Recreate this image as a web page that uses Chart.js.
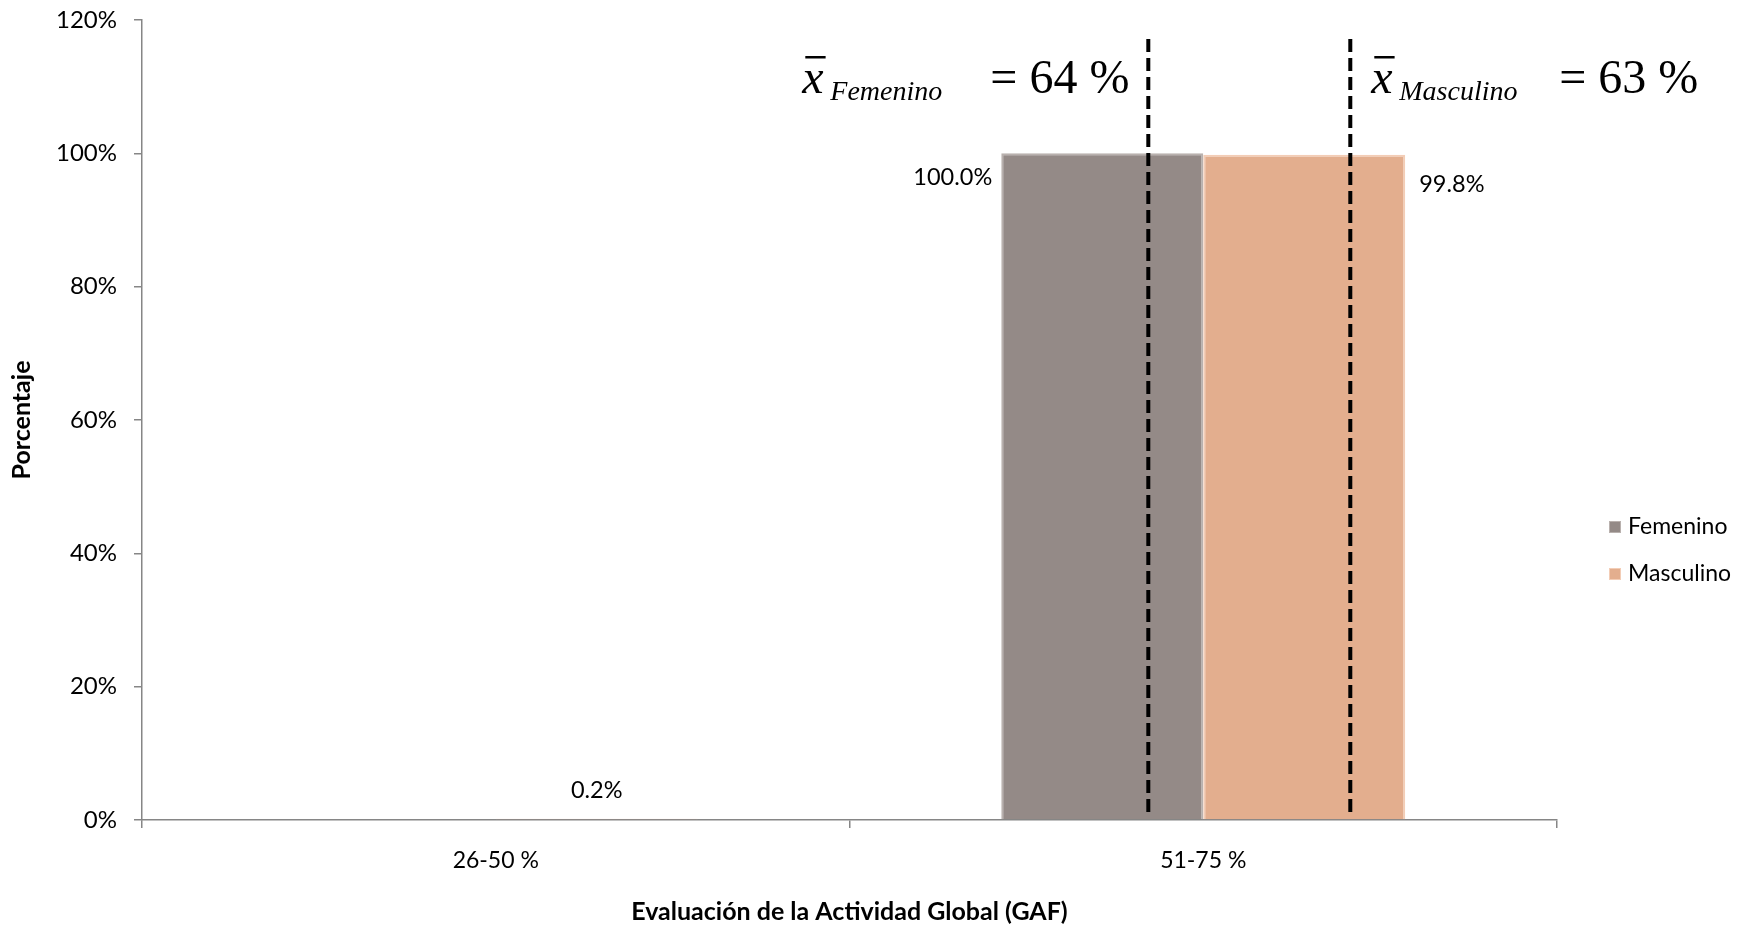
<!DOCTYPE html>
<html lang="es">
<head>
<meta charset="UTF-8">
<title>Evaluación de la Actividad Global (GAF)</title>
<style>
  body { margin: 0; background: #fff; }
  canvas { display: block; }
</style>
<script src="https://cdn.jsdelivr.net/npm/chart.js"></script>
</head>
<body>
<canvas id="graph" width="1750" height="927"></canvas>
<script>
// data
const categories = ['26-50 %', '51-75 %'];
const seriesNames = ['Femenino', 'Masculino'];
const femenino = [0, 100];
const masculino = [0.2, 99.8];
const means = [64, 63]; // media por sexo (%)

const FONT = 'Lato, "Open Sans", sans-serif';
const SERIF = '"Liberation Serif", "DejaVu Serif", serif';
const AXIS = '#868686';
const barColors = ['#948a87', '#e3ae8e'];
const barEdges = ['#b9b1ae', '#f3cdb6'];

// value labels: femenino to the left, masculino to the right, tiny ones above
const valueLabels = {
    id: 'valueLabels',
    afterDatasetsDraw(chart) {
        const ctx = chart.ctx;
        ctx.save();
        ctx.font = '23.5px ' + FONT;
        ctx.fillStyle = '#000';
        ctx.textBaseline = 'middle';
        chart.data.datasets.forEach((ds, i) => {
            chart.getDatasetMeta(i).data.forEach((bar, j) => {
                const v = ds.data[j];
                if (!v) return;
                const txt = v.toFixed(1) + '%';
                if (bar.base - bar.y < 40) {
                    ctx.textAlign = 'center';
                    ctx.fillText(txt, bar.x, bar.y - 28);
                } else if (i === 0) {
                    ctx.textAlign = 'right';
                    ctx.fillText(txt, bar.x - bar.width / 2 - 9, bar.y + 24);
                } else {
                    ctx.textAlign = 'left';
                    ctx.fillText(txt, bar.x + bar.width / 2 + 14, bar.y + 30);
                }
            });
        });
        ctx.restore();
    }
};

// dashed mean lines and the x-bar annotations
const meanMarks = {
    id: 'meanMarks',
    afterDatasetsDraw(chart) {
        const ctx = chart.ctx;
        const area = chart.chartArea;
        const cat = 1; // 51-75 % group
        const textOffset = [-346, 21];
        ctx.save();
        chart.data.datasets.forEach((ds, i) => {
            const bar = chart.getDatasetMeta(i).data[cat];
            const lx = bar.x + bar.width * 0.228;
            ctx.strokeStyle = '#000';
            ctx.lineWidth = 4;
            ctx.setLineDash([13, 6]);
            ctx.beginPath();
            ctx.moveTo(lx, area.top + 19);
            ctx.lineTo(lx, area.bottom - 6);
            ctx.stroke();
            ctx.setLineDash([]);

            const x = lx + textOffset[i];
            ctx.fillStyle = '#000';
            ctx.textAlign = 'left';
            ctx.textBaseline = 'alphabetic';
            ctx.font = 'italic 48px ' + SERIF;
            ctx.fillText('x', x, area.top + 73);
            const w = ctx.measureText('x').width;
            ctx.fillRect(x + 3, area.top + 36, w - 1, 2.5);
            ctx.font = 'italic 28px ' + SERIF;
            ctx.fillText(seriesNames[i], x + 28, area.top + 80);
            ctx.font = '48px ' + SERIF;
            ctx.fillText('= ' + means[i] + ' %', x + 188, area.top + 73);
        });
        ctx.restore();
    }
};

// legend drawn at the right, like the original
const sideLegend = {
    id: 'sideLegend',
    afterDraw(chart) {
        const ctx = chart.ctx;
        const area = chart.chartArea;
        ctx.save();
        ctx.font = '23px ' + FONT;
        ctx.textBaseline = 'middle';
        ctx.textAlign = 'left';
        chart.data.datasets.forEach((ds, i) => {
            const y = area.top + 507 + i * 47;
            const x = area.right + 52;
            ctx.fillStyle = ds.backgroundColor;
            ctx.fillRect(x, y - 6, 12, 12);
            ctx.strokeStyle = ds.borderColor;
            ctx.lineWidth = 1;
            ctx.strokeRect(x + 0.5, y - 5.5, 11, 11);
            ctx.fillStyle = '#000';
            ctx.fillText(ds.label, x + 19, y);
        });
        ctx.restore();
    }
};

const ctx = document.getElementById('graph').getContext('2d');
new Chart(ctx, {
    type: 'bar',
    data: {
        labels: categories,
        datasets: [
            {
                label: seriesNames[0],
                data: femenino,
                backgroundColor: barColors[0],
                borderColor: barEdges[0],
                borderWidth: 2,
                categoryPercentage: 0.571,
                barPercentage: 1
            },
            {
                label: seriesNames[1],
                data: masculino,
                backgroundColor: barColors[1],
                borderColor: barEdges[1],
                borderWidth: 2,
                categoryPercentage: 0.571,
                barPercentage: 1
            }
        ]
    },
    options: {
        responsive: false,
        animation: false,
        layout: { padding: { top: 20, right: 193, left: 0, bottom: 0 } },
        plugins: {
            legend: { display: false },
            tooltip: { enabled: false }
        },
        scales: {
            x: {
                grid: { drawOnChartArea: false, tickLength: 8, color: AXIS, lineWidth: 1.5 },
                border: { color: AXIS, width: 1.5 },
                ticks: { color: '#000', font: { size: 23, family: FONT }, padding: 19 },
                title: {
                    display: true,
                    text: 'Evaluación de la Actividad Global (GAF)',
                    color: '#000',
                    font: { size: 25, weight: 'bold', family: FONT },
                    padding: { top: 0, bottom: 0 }
                },
                afterFit: s => { s.height = 107; }
            },
            y: {
                min: 0,
                max: 120,
                grid: { drawOnChartArea: false, tickLength: 8, color: AXIS, lineWidth: 1.5 },
                border: { color: AXIS, width: 1.5 },
                ticks: {
                    stepSize: 20,
                    color: '#000',
                    font: { size: 24, family: FONT },
                    padding: 17,
                    callback: v => v + '%'
                },
                title: {
                    display: true,
                    text: 'Porcentaje',
                    color: '#000',
                    font: { size: 25, weight: 'bold', family: FONT },
                    padding: { top: 7, bottom: 0 }
                },
                afterFit: s => {
                    s.width = 142;
                    s.paddingTop = 0;
                    s.paddingBottom = 0;
                }
            }
        }
    },
    plugins: [valueLabels, meanMarks, sideLegend]
});
</script>
</body>
</html>
